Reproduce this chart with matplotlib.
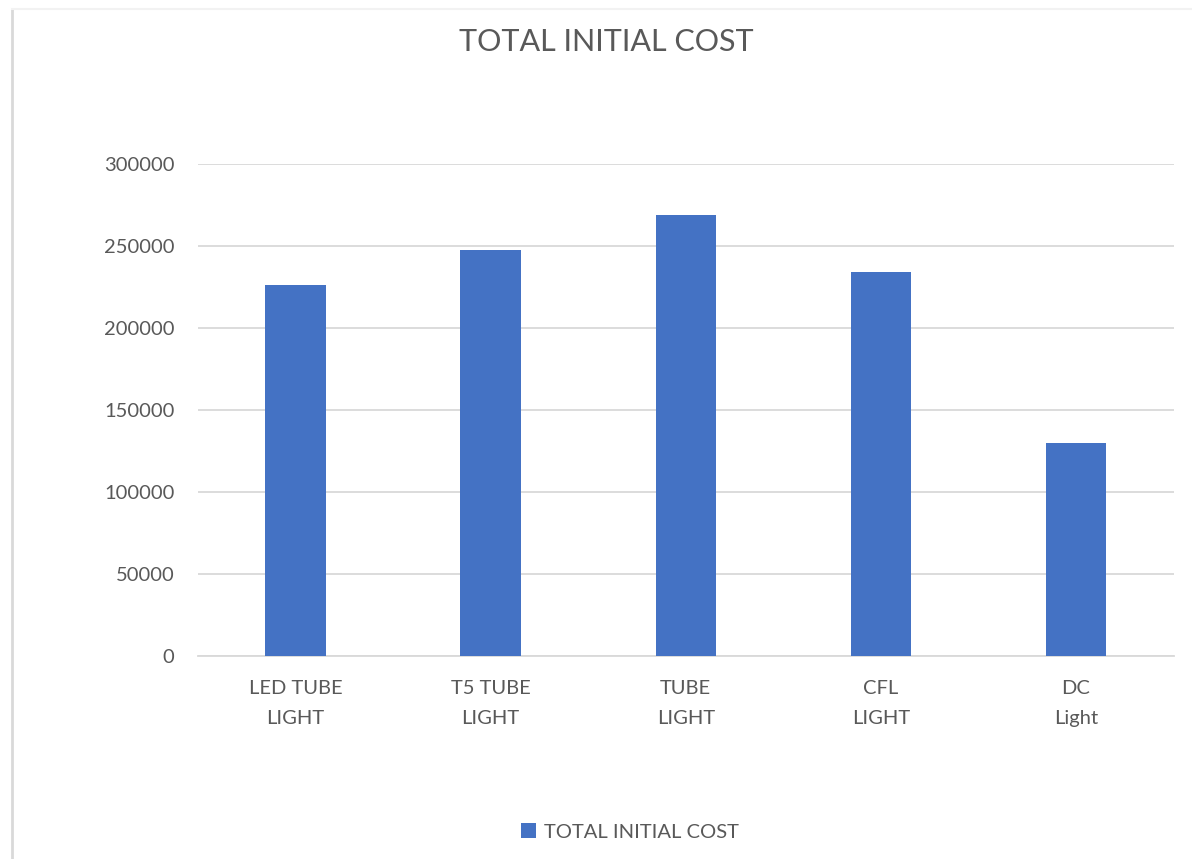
import matplotlib.pyplot as plt
from matplotlib.lines import Line2D

# data
categories = ['LED TUBE\nLIGHT', 'T5 TUBE\nLIGHT', 'TUBE\nLIGHT', 'CFL\nLIGHT', 'DC\nLight']
initial_cost = [226000, 247500, 269000, 234000, 130000]
y_ticks = [0, 50000, 100000, 150000, 200000, 250000, 300000]

bar_color = '#4472C4'
text_color = '#595959'
grid_color = '#D9D9D9'

plt.rcParams['font.family'] = ['Lato', 'DejaVu Sans']

fig = plt.figure(figsize=(11.92, 8.59), dpi=100)
ax = fig.add_axes([198 / 1192, 1 - 656 / 859, (1173.5 - 198) / 1192, (656 - 164) / 859])

x = range(len(categories))
ax.bar(x, initial_cost, width=0.31, color=bar_color, label='TOTAL INITIAL COST', zorder=3)

ax.set_xlim(-0.5, len(categories) - 0.5)
ax.set_ylim(0, 300000)
ax.set_yticks(y_ticks)
ax.set_yticklabels([str(v) for v in y_ticks])
ax.set_xticks(list(x))
ax.set_xticklabels(categories, linespacing=1.95)

ax.tick_params(axis='y', length=0, pad=17, labelsize=14.5, labelcolor=text_color)
ax.tick_params(axis='x', length=0, pad=17, labelsize=14.5, labelcolor=text_color)
ax.grid(axis='y', color=grid_color, linewidth=1.3, zorder=0)
for side in ['top', 'right', 'left']:
    ax.spines[side].set_visible(False)
ax.spines['bottom'].set_color(grid_color)
ax.spines['bottom'].set_linewidth(1.3)

fig.text(606 / 1192, 1 - 42 / 859, 'TOTAL INITIAL COST', ha='center', va='center',
         fontsize=22, color=text_color)

fig.legend(loc='center', bbox_to_anchor=(630 / 1192, 1 - 832 / 859), frameon=False,
           fontsize=14.5, labelcolor=text_color, handlelength=0.7, handleheight=0.7,
           handletextpad=0.4)

# chart frame edges
fig.add_artist(Line2D([12 / 1192, 12 / 1192], [0, 1 - 9 / 859], transform=fig.transFigure,
                      color='#D9D9D9', linewidth=2))
fig.add_artist(Line2D([12 / 1192, 1], [1 - 9 / 859, 1 - 9 / 859], transform=fig.transFigure,
                      color='#F2F2F2', linewidth=1.5))

fig.savefig('out.png', dpi=100)
